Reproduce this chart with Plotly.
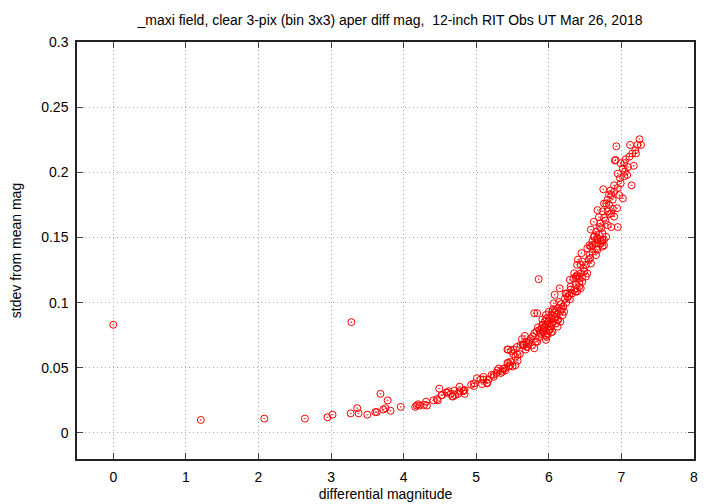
import plotly.graph_objects as go

title_text = "_maxi field, clear 3-pix (bin 3x3) aper diff mag,  12-inch RIT Obs UT Mar 26, 2018"
x_label = "differential magnitude"
y_label = "stdev from mean mag"

x_ticks = [0, 1, 2, 3, 4, 5, 6, 7, 8]
y_ticks = [0, 0.05, 0.1, 0.15, 0.2, 0.25, 0.3]
y_tick_text = ["0", "0.05", "0.1", "0.15", "0.2", "0.25", "0.3"]

# bright / isolated stars
mag_bright = [0.00, 1.206, 2.08, 2.64, 2.95, 3.02, 3.28, 3.27, 3.36, 3.38, 3.50, 3.61, 3.63,
              3.68, 3.78, 3.72, 3.75, 3.82, 3.96, 4.16, 4.18]
sd_bright = [0.083, 0.010, 0.011, 0.011, 0.012, 0.014, 0.085, 0.015, 0.019, 0.015, 0.014, 0.016, 0.016,
             0.030, 0.025, 0.018, 0.019, 0.017, 0.020, 0.020, 0.021]

# 4.2 - 5.6 mag
mag_mid = [4.20, 4.22, 4.28, 4.31, 4.32, 4.41, 4.46, 4.47, 4.49, 4.52, 4.53, 4.59, 4.60, 4.62, 4.65,
           4.67, 4.68, 4.70, 4.71, 4.75, 4.77, 4.77, 4.82, 4.83, 4.84, 4.84, 4.93, 4.97, 4.97,
           5.01, 5.06, 5.08, 5.10, 5.10, 5.15, 5.15, 5.17, 5.21, 5.24, 5.24, 5.28, 5.29, 5.31,
           5.34, 5.36, 5.37, 5.39, 5.40, 5.43, 5.44, 5.45, 5.47, 5.47, 5.50, 5.54, 5.43, 5.44,
           5.48, 5.51, 5.51, 5.54, 5.56, 5.57, 5.57, 5.60]
sd_mid = [0.022, 0.021, 0.0215, 0.024, 0.021, 0.025, 0.026, 0.025, 0.034, 0.029, 0.029, 0.031, 0.031,
          0.032, 0.030, 0.028, 0.028, 0.0325, 0.029, 0.030, 0.0355, 0.032, 0.032, 0.0325, 0.030,
          0.033, 0.037, 0.038, 0.036, 0.042, 0.041, 0.0375, 0.041, 0.043, 0.0385, 0.038, 0.041,
          0.0445, 0.043, 0.0445, 0.046, 0.048, 0.0495, 0.046, 0.047, 0.049, 0.0495, 0.048,
          0.0535, 0.054, 0.051, 0.052, 0.0545, 0.051, 0.052, 0.064, 0.064, 0.063, 0.0605,
          0.064, 0.0585, 0.066, 0.0555, 0.060, 0.0605]

# 5.6 - 6.3 mag
mag_faint = [5.61, 5.64, 5.66, 5.67, 5.68, 5.70, 5.70, 5.72, 5.75, 5.77, 5.80, 5.80, 5.82, 5.84,
             5.86, 5.87, 5.89, 5.93, 5.96, 5.97, 5.98, 6.00, 6.03, 5.80, 5.84, 5.96, 6.00, 6.05,
             6.10, 6.16, 6.21, 6.07, 6.14, 6.12, 6.04, 6.00, 6.07, 6.19, 6.03, 5.98, 5.93, 5.91,
             6.10, 6.12, 6.16, 6.05, 5.96, 5.86, 6.08, 6.15, 6.25, 6.29, 6.34, 6.39, 6.30, 6.37,
             6.42, 5.90, 5.92, 5.95, 6.01, 6.02, 6.06, 6.09, 6.11, 6.13, 6.18, 6.20, 5.88, 5.94,
             5.99, 6.04, 6.08, 6.13, 6.17, 5.78, 5.83, 5.74, 5.69, 5.63, 5.65, 6.22, 6.24, 6.26,
             5.85, 5.91, 5.97, 6.01, 6.06]
sd_faint = [0.0675, 0.068, 0.068, 0.0745, 0.064, 0.066, 0.066, 0.069, 0.0725, 0.0675, 0.065, 0.0765,
            0.070, 0.070, 0.0735, 0.079, 0.076, 0.0775, 0.0714, 0.0737, 0.076, 0.079, 0.077, 0.0919,
            0.0919, 0.0905, 0.093, 0.0935, 0.094, 0.0935, 0.093, 0.0995, 0.1005, 0.0865, 0.084,
            0.0865, 0.088, 0.0905, 0.0816, 0.083, 0.079, 0.083, 0.084, 0.0816, 0.0854, 0.0777,
            0.075, 0.118, 0.106, 0.111, 0.107, 0.1175, 0.1187, 0.120, 0.110, 0.1085, 0.112,
            0.080, 0.083, 0.086, 0.088, 0.082, 0.085, 0.089, 0.091, 0.087, 0.095, 0.097, 0.077,
            0.081, 0.085, 0.090, 0.092, 0.096, 0.099, 0.074, 0.078, 0.071, 0.070, 0.072, 0.067,
            0.103, 0.100, 0.104, 0.081, 0.087, 0.088, 0.079, 0.095]

# 6.2 - 7.3 mag
mag_faintest = [6.58, 6.65, 6.72, 6.76, 6.60, 6.67, 6.74, 6.65, 6.56, 6.45, 6.40, 6.46, 6.51, 6.55,
                6.58, 6.44, 6.39, 6.35, 6.39, 6.44, 6.49, 6.37, 6.42, 6.46, 6.51, 6.53, 6.42, 6.46,
                6.37, 6.30, 6.35, 6.32, 6.39, 6.44, 6.28, 6.23, 6.29, 6.53, 6.60, 6.67, 6.74, 6.76,
                6.65, 7.25, 7.27, 7.22, 7.12, 6.93, 7.19, 7.15, 7.20, 7.06, 7.11, 6.91, 6.99, 7.04,
                7.09, 7.02, 6.95, 7.05, 6.98, 7.04, 7.14, 6.75, 6.90, 6.99, 6.95, 6.90, 6.97, 7.02,
                6.86, 6.81, 6.88, 6.76, 6.83, 6.94, 6.67, 6.74, 6.81, 6.86, 6.90, 6.69, 6.76, 6.62,
                6.71, 6.81, 6.86, 6.95, 6.58, 6.65, 6.74, 6.79, 6.62, 6.67, 6.60, 6.71, 6.56, 6.92,
                6.78, 6.84, 6.70, 6.63, 6.79, 6.88, 6.83, 7.08, 7.17, 6.48, 6.57, 6.69, 6.72, 6.85]
sd_faintest = [0.143, 0.1455, 0.147, 0.148, 0.139, 0.1405, 0.143, 0.1365, 0.1365, 0.138, 0.133,
               0.1315, 0.129, 0.133, 0.130, 0.129, 0.129, 0.1225, 0.121, 0.1225, 0.124, 0.1195,
               0.1187, 0.1195, 0.120, 0.1225, 0.115, 0.116, 0.1135, 0.1123, 0.1097, 0.107, 0.1085,
               0.111, 0.106, 0.107, 0.1025, 0.1417, 0.144, 0.148, 0.148, 0.144, 0.141, 0.2254,
               0.221, 0.221, 0.221, 0.220, 0.217, 0.2145, 0.2145, 0.210, 0.212, 0.209, 0.207,
               0.207, 0.204, 0.203, 0.199, 0.2005, 0.1955, 0.197, 0.190, 0.187, 0.190, 0.1915,
               0.188, 0.185, 0.1825, 0.180, 0.1825, 0.179, 0.179, 0.176, 0.175, 0.1725, 0.171,
               0.170, 0.170, 0.1685, 0.166, 0.1655, 0.165, 0.162, 0.161, 0.1595, 0.158, 0.158,
               0.156, 0.1545, 0.153, 0.1505, 0.1505, 0.149, 0.147, 0.1455, 0.144, 0.2095, 0.163,
               0.168, 0.158, 0.151, 0.176, 0.172, 0.183, 0.198, 0.205, 0.126, 0.134, 0.152, 0.157,
               0.186]

mags = mag_bright + mag_mid + mag_faint + mag_faintest
sdevs = sd_bright + sd_mid + sd_faint + sd_faintest

font_family = "Liberation Sans, Arial, sans-serif"
fsize = 14

# the page body has an 8px default margin, so the figure is drawn 8px in from the top-left
fig_w, fig_h = 712, 496

fig = go.Figure()
fig.add_trace(go.Scatter(
    x=mags, y=sdevs, mode="markers",
    marker=dict(symbol="circle-open-dot", size=7, color="#ff0000",
                line=dict(width=1, color="#ff0000")),
    showlegend=False,
))

axis_common = dict(
    showline=True, linecolor="#222222", linewidth=1.5, mirror="allticks",
    ticks="inside", ticklen=6, tickwidth=1, tickcolor="#444444",
    showgrid=True, gridcolor="#a8a8a8", griddash="1px,3px", gridwidth=1,
    zeroline=False, automargin=False,
    tickfont=dict(family=font_family, size=fsize, color="#000000"),
    title_font=dict(family=font_family, size=fsize, color="#000000"),
)

fig.update_xaxes(range=[-0.5, 8], tickvals=x_ticks, ticktext=[str(v) for v in x_ticks],
                 ticklabelstandoff=4,
                 title=dict(text=x_label, standoff=6), **axis_common)
fig.update_yaxes(range=[-0.02, 0.3], tickvals=y_ticks, ticktext=y_tick_text,
                 ticklabelstandoff=4,
                 title=dict(text=y_label, standoff=22), **axis_common)

fig.update_layout(
    width=fig_w, height=fig_h,
    margin=dict(l=69, r=26, t=34, b=45),
    paper_bgcolor="white", plot_bgcolor="white",
    title=dict(text=title_text, x=382 / fig_w, xanchor="center", y=1 - 12 / fig_h, yanchor="middle",
               font=dict(family=font_family, size=fsize, color="#000000")),
)

fig.write_html("out.html")
